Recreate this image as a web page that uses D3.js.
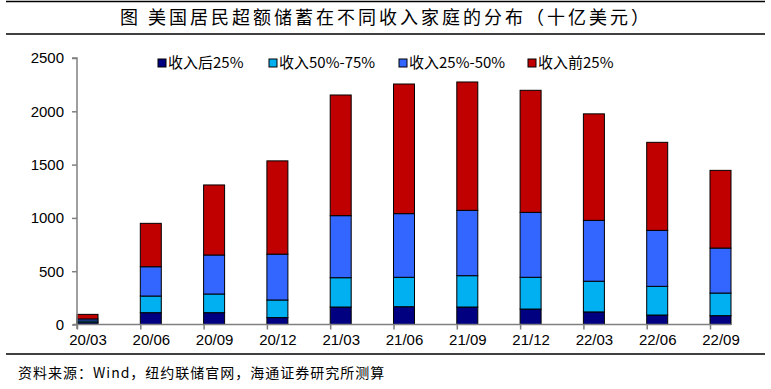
<!DOCTYPE html>
<html>
<head>
<meta charset="utf-8">
<script src="https://cdn.jsdelivr.net/npm/d3@7"></script>
<style>
  body { margin: 0; background: #fff; }
  svg { display: block; }
</style>
</head>
<body>
<svg width="771" height="389"></svg>
<script>
// categories and series (billion USD)
var categories = ["20/03", "20/06", "20/09", "20/12", "21/03", "21/06", "21/09", "21/12", "22/03", "22/06", "22/09"];
var bottom25 = [17, 111, 111, 65, 164, 167, 164, 145, 118, 89, 83];
var mid5075 = [16, 156, 175, 165, 275, 276, 294, 298, 288, 269, 212];
var mid2550 = [19, 275, 366, 430, 582, 597, 613, 609, 571, 525, 422];
var top25 = [43, 407, 657, 875, 1132, 1216, 1204, 1145, 999, 826, 729];
var yTicks = [0, 500, 1000, 1500, 2000, 2500];

var seriesNames = ["收入后25%", "收入50%-75%", "收入25%-50%", "收入前25%"];
var seriesColors = ["#000080", "#00B0F0", "#3366FF", "#C00000"];
var seriesValues = [bottom25, mid5075, mid2550, top25];

var svg = d3.select("svg");
var fontLatin = "'Liberation Sans', Arial, sans-serif";
var fontCJK = "'Noto Sans CJK SC', sans-serif";

// build rows for the stack
var rows = categories.map(function (c, i) {
  var r = { cat: c };
  seriesNames.forEach(function (s, k) { r[s] = seriesValues[k][i]; });
  return r;
});
var stacked = d3.stack().keys(seriesNames)(rows);

var barW = 21;
var xScale = d3.scalePoint().domain(categories).range([77, 710]);
var yScale = d3.scaleLinear().domain([0, 2500]).range([324.5, 58]);

// frame lines
[1.5, 34, 354].forEach(function (y) {
  svg.append("line")
    .attr("x1", 6).attr("x2", 765)
    .attr("y1", y).attr("y2", y)
    .attr("stroke", "#000").attr("stroke-width", 1.5);
});

// title
svg.append("text")
  .attr("x", 386)
  .attr("y", 24)
  .attr("text-anchor", "middle")
  .style("font-family", fontCJK)
  .style("font-size", "18px")
  .style("letter-spacing", "3px")
  .text("图 美国居民超额储蓄在不同收入家庭的分布（十亿美元）");

// bars
var layers = svg.append("g")
  .selectAll("g")
  .data(stacked)
  .enter()
  .append("g")
  .attr("fill", function (d, i) { return seriesColors[i]; });

layers.selectAll("rect")
  .data(function (d) { return d; })
  .enter()
  .append("rect")
  .attr("x", function (d) { return xScale(d.data.cat); })
  .attr("y", function (d) { return yScale(d[1]); })
  .attr("width", barW)
  .attr("height", function (d) { return yScale(d[0]) - yScale(d[1]); })
  .attr("stroke", "#000")
  .attr("stroke-width", 1);

// y axis
var yAxis = d3.axisLeft(yScale).tickValues(yTicks).tickFormat(d3.format("d"))
  .tickSize(5).tickPadding(8);
var gy = svg.append("g").attr("transform", "translate(77,0)").call(yAxis);
gy.select(".domain").attr("stroke", "#808080").attr("stroke-width", 1.5)
  .attr("d", "M-5,58H0V329");
gy.selectAll(".tick line").attr("stroke", "#808080").attr("stroke-width", 1.5);
gy.selectAll(".tick text")
  .style("font-family", fontLatin)
  .style("font-size", "15px")
  .attr("fill", "#000");

// x axis
var xAxis = d3.axisBottom(xScale).tickSize(5).tickPadding(5);
var gx = svg.append("g").attr("transform", "translate(0,324.5)").call(xAxis);
gx.select(".domain").attr("stroke", "#808080").attr("stroke-width", 1.5)
  .attr("d", "M73,0H731");
gx.selectAll(".tick line").attr("stroke", "#808080").attr("stroke-width", 1.5);
gx.selectAll(".tick text")
  .attr("x", barW / 2)
  .style("font-family", fontLatin)
  .style("font-size", "15px")
  .attr("fill", "#000");

// legend
var legendX = [158, 269, 399, 528];
var legend = svg.append("g")
  .selectAll("g")
  .data(seriesNames)
  .enter()
  .append("g")
  .attr("transform", function (d, i) { return "translate(" + legendX[i] + ",59)"; });

legend.append("rect")
  .attr("width", 8).attr("height", 8)
  .attr("fill", function (d, i) { return seriesColors[i]; })
  .attr("stroke", "#000").attr("stroke-width", 1);

legend.append("text")
  .attr("x", 10)
  .attr("y", 9)
  .style("font-family", fontCJK)
  .style("font-size", "15px")
  .text(function (d) { return d; });

// source
svg.append("text")
  .attr("x", 18)
  .attr("y", 378)
  .style("font-family", fontCJK)
  .style("font-size", "14px")
  .style("letter-spacing", "1px")
  .text("资料来源：Wind，纽约联储官网，海通证券研究所测算");
</script>
</body>
</html>
